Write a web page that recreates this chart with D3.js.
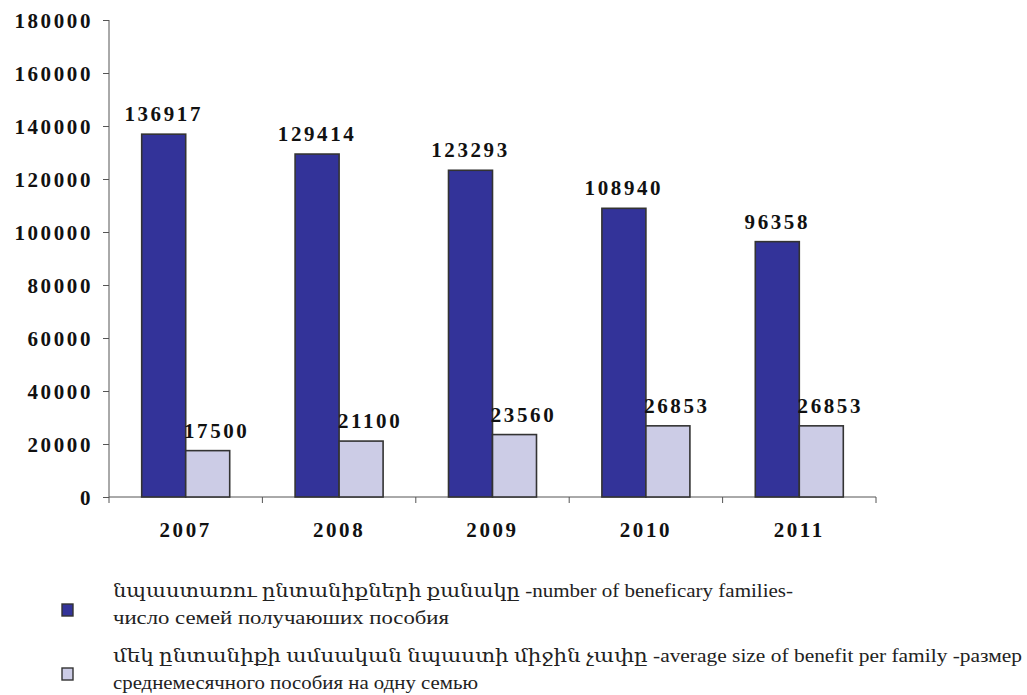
<!DOCTYPE html>
<html>
<head>
<meta charset="utf-8">
<script src="https://cdn.jsdelivr.net/npm/d3@7"></script>
<style>
  body { margin: 0; background: #fff; }
  .num { font-family: "Liberation Serif", "Times New Roman", "DejaVu Serif", serif; font-weight: bold; font-size: 21px; letter-spacing: 2.6px; fill: #111; }
  .leg { font-family: "Liberation Serif", "Times New Roman", "DejaVu Serif", serif; font-size: 19px; fill: #222; }
</style>
</head>
<body>
<div id="chart"></div>
<script>
// data
var years = ["2007", "2008", "2009", "2010", "2011"];
var families = [136917, 129414, 123293, 108940, 96358];
var benefit = [17500, 21100, 23560, 26853, 26853];
var yTicks = [0, 20000, 40000, 60000, 80000, 100000, 120000, 140000, 160000, 180000];
var legendLines = [
  ["նպաստառու ընտանիքների քանակը -number of beneficary families-", "число семей получаюших пособия"],
  ["մեկ ընտանիքի ամսական նպաստի միջին չափը -average size of  benefit per family -размер", "среднемесячного пособия на одну семью"]
];
var colors = ["#333399", "#cccce6"];

var svgWidth = 1027, svgHeight = 695;
var margin = { top: 20, left: 109, right: 151, bottom: 198 };
var width = svgWidth - margin.left - margin.right;
var height = svgHeight - margin.top - margin.bottom;

var svg = d3.select("#chart").append("svg")
  .attr("width", svgWidth)
  .attr("height", svgHeight);

var chartGroup = svg.append("g")
  .attr("transform", `translate(${margin.left}, ${margin.top})`);

var x = d3.scaleBand().domain(years).range([0, width]);
var barW = 44;
var y = d3.scaleLinear().domain([0, 180000]).range([height, 0]);

// y axis
var yAxis = chartGroup.append("g")
  .call(d3.axisLeft(y).tickValues(yTicks).tickSize(6).tickFormat(d => d));
yAxis.selectAll("path, line").attr("stroke", "#555");
yAxis.selectAll("text").attr("class", "num").attr("x", -16).attr("dy", "0.35em");
yAxis.select(".domain").attr("d", `M0,0V${height}`);

// x axis line + ticks at band boundaries
var xAxis = chartGroup.append("g").attr("transform", `translate(0, ${height})`);
xAxis.append("line").attr("x1", 0).attr("x2", width).attr("stroke", "#555");
xAxis.selectAll("line.tk")
  .data(years.concat(["end"]))
  .enter().append("line")
  .attr("class", "tk")
  .attr("x1", (d, i) => i * x.bandwidth())
  .attr("x2", (d, i) => i * x.bandwidth())
  .attr("y1", 0).attr("y2", 6)
  .attr("stroke", "#555");
xAxis.selectAll("text")
  .data(years)
  .enter().append("text")
  .attr("class", "num")
  .attr("x", d => x(d) + x.bandwidth() / 2)
  .attr("y", 40)
  .attr("text-anchor", "middle")
  .text(d => d);

// bars
var series = [families, benefit];
series.forEach(function(vals, s) {
  chartGroup.selectAll("rect.s" + s)
    .data(vals)
    .enter().append("rect")
    .attr("class", "s" + s)
    .attr("x", (d, i) => x(years[i]) + x.bandwidth() / 2 - barW + s * barW)
    .attr("y", d => y(d))
    .attr("width", barW)
    .attr("height", d => height - y(d))
    .attr("fill", colors[s])
    .attr("stroke", "#333")
    .attr("stroke-width", 1.6);

  chartGroup.selectAll("text.l" + s)
    .data(vals)
    .enter().append("text")
    .attr("class", "num l" + s)
    .attr("x", (d, i) => x(years[i]) + x.bandwidth() / 2 - barW / 2 + s * barW + (s ? 9 : 0))
    .attr("y", d => y(d) - 13)
    .attr("text-anchor", "middle")
    .text(d => d);
});

// legend
var legendWidths = [[680, 336], [909, 365]];
var legendY = [597, 662];
var swatchY = [604, 668];
legendLines.forEach(function(lines, s) {
  svg.append("rect")
    .attr("x", 62).attr("y", swatchY[s])
    .attr("width", 11).attr("height", 12)
    .attr("fill", colors[s])
    .attr("stroke", "#333")
    .attr("stroke-width", 1.4);
  lines.forEach(function(t, j) {
    svg.append("text")
      .attr("class", "leg")
      .attr("x", 113)
      .attr("y", legendY[s] + j * 27)
      .attr("textLength", legendWidths[s][j])
      .attr("lengthAdjust", "spacingAndGlyphs")
      .text(t);
  });
});
</script>
</body>
</html>
